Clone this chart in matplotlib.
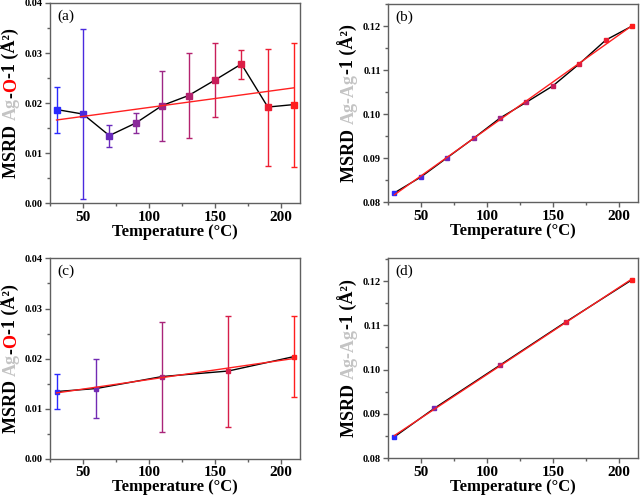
import numpy as np
import matplotlib
matplotlib.use('Agg')
import matplotlib.pyplot as plt
from matplotlib.colors import LinearSegmentedColormap
from matplotlib.ticker import MultipleLocator, FormatStrFormatter

# panel (a): Ag-O-1, 10 temperatures
temp_a = [30, 50, 70, 90, 110, 130, 150, 170, 190, 210]
msrd_a = [0.0187, 0.0178, 0.0135, 0.0160, 0.0195, 0.0215, 0.0246, 0.0278, 0.0192, 0.0197]
lo_a = [0.0141, 0.0008, 0.0113, 0.0140, 0.0125, 0.0130, 0.0172, 0.0248, 0.0075, 0.0073]
hi_a = [0.0232, 0.0348, 0.0157, 0.0180, 0.0265, 0.0300, 0.0321, 0.0307, 0.0308, 0.0321]

# panel (b): Ag-Ag-1, 10 temperatures
temp_b = [30, 50, 70, 90, 110, 130, 150, 170, 190, 210]
msrd_b = [0.0821, 0.0857, 0.0901, 0.0945, 0.0991, 0.1027, 0.1064, 0.1114, 0.1168, 0.1200]

# panel (c): Ag-O-1, 5 temperatures
temp_c = [30, 60, 110, 160, 210]
msrd_c = [0.0134, 0.0140, 0.0164, 0.0175, 0.0204]
lo_c = [0.0099, 0.0081, 0.0054, 0.0064, 0.0123]
hi_c = [0.0169, 0.0199, 0.0274, 0.0286, 0.0286]

# panel (d): Ag-Ag-1, 5 temperatures
temp_d = [30, 60, 110, 160, 210]
msrd_d = [0.0848, 0.0912, 0.1010, 0.1108, 0.1203]

plt.rcParams['font.family'] = ['Liberation Serif', 'DejaVu Serif']
plt.rcParams['font.weight'] = 'bold'

cmap = LinearSegmentedColormap.from_list('br', ['#2a2aff', '#8a2a9a', '#c81e5a', '#ff1e1e'])
frame = '#606060'
GRAY = '#c4c4c4'

fig = plt.figure(figsize=(6.4, 4.99), dpi=100)
axa = fig.add_axes([0.078, 0.593, 0.391, 0.401])
axb = fig.add_axes([0.606, 0.595, 0.391, 0.397])
axc = fig.add_axes([0.078, 0.081, 0.391, 0.401])
axd = fig.add_axes([0.606, 0.082, 0.391, 0.401])


def panel(ax, x, y, lo=None, hi=None, ms=3.5):
    x = np.array(x)
    y = np.array(y)
    cols = cmap(np.linspace(0, 1, len(x)))
    ax.plot(x, y, color='black', lw=1, zorder=2)
    for i in range(len(x)):
        if lo is not None:
            ax.errorbar(x[i], y[i], yerr=[[y[i] - lo[i]], [hi[i] - y[i]]], fmt='none',
                        ecolor=cols[i], elinewidth=1, capsize=2.5, capthick=1, zorder=3)
        ax.plot(x[i], y[i], 's', color=cols[i], ms=ms, zorder=4)
    k, b = np.polyfit(x, y, 1)
    ax.plot([x[0], x[-1]], [k * x[0] + b, k * x[-1] + b], color='#ff2020', lw=1, zorder=5)


def style(ax, ylim, tag):
    ax.set_xlim(25, 214.5)
    ax.set_ylim(*ylim)
    ax.xaxis.set_major_locator(MultipleLocator(50))
    ax.xaxis.set_minor_locator(MultipleLocator(25))
    ax.yaxis.set_major_locator(MultipleLocator(0.01))
    ax.yaxis.set_minor_locator(MultipleLocator(0.005))
    ax.yaxis.set_major_formatter(FormatStrFormatter('%.2f'))
    for s in ax.spines.values():
        s.set_color(frame)
        s.set_linewidth(1)
    ax.tick_params(which='both', direction='out', color=frame, width=1)
    ax.tick_params(which='major', length=3.5)
    ax.tick_params(which='minor', length=2)
    ax.tick_params(axis='x', labelsize=11, pad=2)
    ax.tick_params(axis='y', labelsize=7.5, pad=1.5)
    ax.set_xlabel('Temperature (°C)', fontsize=12, fontweight='bold', labelpad=0)
    ax.text(0.03, 0.935, tag, transform=ax.transAxes, fontsize=11, fontweight='normal',
            ha='left', va='center')


def ylabel_parts(ax, parts):
    kw = dict(rotation=90, ha='right', va='bottom', fontsize=13, fontweight='bold')
    first = ax.text(-0.12, 0.5, parts[0][0], color=parts[0][1], transform=ax.transAxes, **kw)
    texts = [first]
    prev = first
    for s, c in parts[1:]:
        prev = ax.annotate(s, xy=(1, 1), xycoords=prev, color=c, **kw)
        texts.append(prev)
    return texts


panel(axa, temp_a, msrd_a, lo_a, hi_a, ms=5)
panel(axb, temp_b, msrd_b)
panel(axc, temp_c, msrd_c, lo_c, hi_c, ms=3.5)
panel(axd, temp_d, msrd_d, ms=3.5)

style(axa, (0, 0.04), '(a)')
style(axb, (0.08, 0.125), '(b)')
style(axc, (0, 0.04), '(c)')
style(axd, (0.08, 0.1252), '(d)')

ag_o = [('MSRD ', 'black'), ('Ag', GRAY), ('-', 'black'), ('O', 'red'), ('-1 (Å²)', 'black')]
ag_ag = [('MSRD ', 'black'), ('Ag-Ag', GRAY), ('-1 (Å²)', 'black')]
labels = [(axa, ylabel_parts(axa, ag_o)), (axb, ylabel_parts(axb, ag_ag)),
          (axc, ylabel_parts(axc, ag_o)), (axd, ylabel_parts(axd, ag_ag))]

# centre each multi-colour label on its axis
fig.canvas.draw()
r = fig.canvas.get_renderer()
for ax, texts in labels:
    y0 = texts[0].get_window_extent(r).y0
    y1 = texts[-1].get_window_extent(r).y1
    bb = ax.get_window_extent(r)
    shift = ((bb.y0 + bb.y1) / 2 - (y0 + y1) / 2) / bb.height
    texts[0].set_y(0.5 + shift)

fig.savefig('out.png', dpi=100)
